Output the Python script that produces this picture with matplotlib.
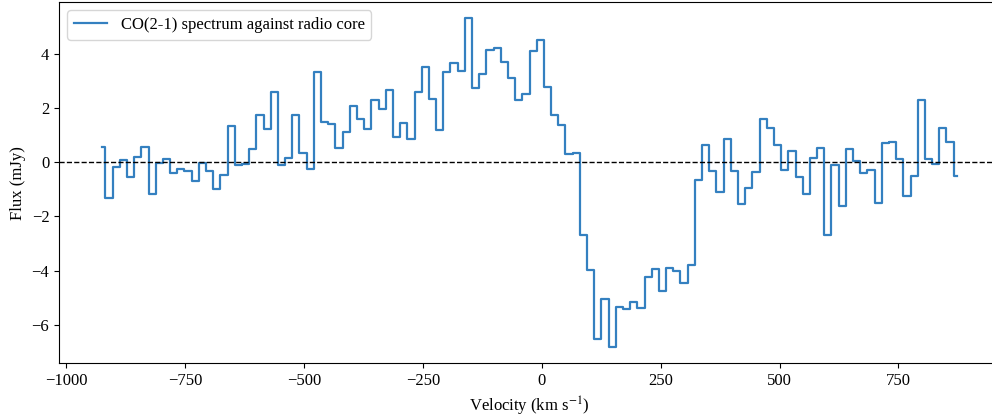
"""
CO(2-1) absorption/emission spectrum extracted against the radio core.

Plots the flux density per velocity channel as a step histogram with a
zero-flux reference line, and writes out.png.
"""

import numpy as np

import matplotlib
matplotlib.use("Agg")
import matplotlib.pyplot as plt


# channel grid (km/s): first channel centre and channel width
V_START = -925.6
DV = 15.12

FLUX = [
    0.57, -1.33, -0.17, 0.10, -0.53, 0.20, 0.57, -1.17, -0.04, 0.13,
    -0.41, -0.25, -0.32, -0.70, -0.03, -0.33, -1.00, -0.45, 1.34, -0.11,
    -0.05, 0.51, 1.75, 1.23, 2.61, -0.11, 0.17, 1.75, 0.35, -0.26,
    3.33, 1.50, 1.41, 0.52, 1.13, 2.09, 1.59, 1.22, 2.31, 1.97,
    2.69, 0.94, 1.47, 0.85, 2.62, 3.53, 2.35, 1.19, 3.33, 3.68,
    3.36, 5.32, 2.75, 3.27, 4.15, 4.22, 3.71, 3.12, 2.29, 2.54,
    4.12, 4.53, 2.77, 1.74, 1.38, 0.32, 0.35, -2.70, -3.99, -6.52,
    -5.05, -6.82, -5.34, -5.43, -5.18, -5.40, -4.25, -3.96, -4.75, -3.90,
    -4.01, -4.47, -3.78, -0.65, 0.65, -0.31, -1.08, 0.88, -0.32, -1.54,
    -0.95, -0.36, 1.60, 1.28, 0.63, -0.30, 0.41, -0.55, -1.17, 0.17,
    0.54, -2.70, -0.09, -1.62, 0.51, 0.05, -0.40, -0.30, -1.52, 0.73,
    0.76, 0.14, -1.26, -0.49, 2.29, 0.14, -0.05, 1.28, 0.76, -0.49,
]  # mJy

LABEL = "CO(2-1) spectrum against radio core"


def main():
    plt.rcParams["font.family"] = ["Liberation Serif", "DejaVu Serif"]
    plt.rcParams["mathtext.fontset"] = "stix"
    plt.rcParams["font.size"] = 12

    flux = np.asarray(FLUX)
    vel = V_START + DV * np.arange(flux.size)

    fig = plt.figure(figsize=(9.92, 4.16), dpi=100)
    ax = fig.add_axes([0.0595, 0.127, 0.9486, 0.868])

    ax.step(vel, flux, where="mid", color="#3480c0", lw=1.6, label=LABEL)
    ax.axhline(0, color="black", ls="--", lw=1.0)

    ax.set_xlabel(r"Velocity (km s$^{-1}$)")
    ax.set_ylabel("Flux (mJy)")
    ax.legend(loc="upper left")

    fig.savefig("out.png", dpi=100)
    plt.close(fig)


if __name__ == "__main__":
    main()
